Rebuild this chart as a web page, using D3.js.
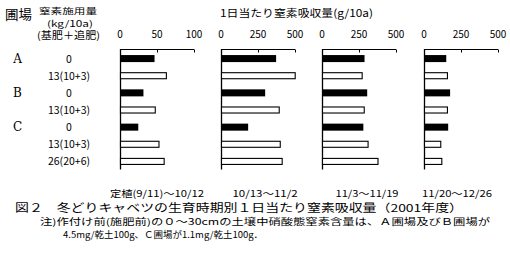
<!DOCTYPE html>
<html><head><meta charset="utf-8">
<script src="https://cdn.jsdelivr.net/npm/d3@7"></script>
<style>body{margin:0;background:#fff}svg{display:block}text{font-family:"Noto Sans CJK JP","Noto Sans",sans-serif;fill:#000}</style>
</head><body>
<script>
// ---- data ----
const periods = ["定植(9/11)〜10/12", "10/13〜11/2", "11/3〜11/19", "11/20〜12/26"];
const fieldLabels = ["A", "", "B", "", "C", "", ""];
const nitrogenLabels = ["0", "13(10+3)", "0", "13(10+3)", "0", "13(10+3)", "26(20+6)"];
const fertilized = [false, true, false, true, false, true, true];
const period1 = [46, 62, 31, 47, 24, 52, 59];
const period2 = [369, 498, 295, 390, 180, 397, 410];
const period3 = [284, 268, 302, 282, 276, 308, 375];
const period4 = [147, 155, 173, 155, 160, 110, 117];
const axisMax = [100, 500, 500, 500];
const tickValues = [[0, 50, 100], [0, 250, 500], [0, 250, 500], [0, 250, 500]];
const series = [period1, period2, period3, period4];

// ---- layout ----
const W = 510, H = 261;
const panelStart = [120, 221, 322, 424];
const panelWidth = 74;
const svg = d3.select("body").append("svg").attr("width", W).attr("height", H);

const y = d3.scaleBand().domain(d3.range(nitrogenLabels.length)).range([50, 170])
  .paddingInner(0.59).paddingOuter(0.295);

// headers
svg.append("text").attr("x", 5).attr("y", 19).attr("font-size", 13).attr("textLength", 27).attr("lengthAdjust","spacingAndGlyphs").text("圃場");
svg.append("text").attr("x", 39).attr("y", 14).attr("font-size", 8.5).attr("textLength", 58).attr("lengthAdjust","spacingAndGlyphs").text("窒素施用量");
svg.append("text").attr("x", 47).attr("y", 26.5).attr("font-size", 8.5).attr("textLength", 46).attr("lengthAdjust","spacingAndGlyphs").text("(kg/10a)");
svg.append("text").attr("x", 37).attr("y", 39).attr("font-size", 10).attr("textLength", 63).attr("lengthAdjust","spacingAndGlyphs").text("(基肥＋追肥)");
svg.append("text").attr("x", 220).attr("y", 16.5).attr("font-size", 10.5).attr("textLength", 153).attr("lengthAdjust","spacingAndGlyphs").text("1日当たり窒素吸収量(g/10a)");

// row labels
nitrogenLabels.forEach((lab, i) => {
  const cy = y(i) + y.bandwidth() / 2;
  if (fieldLabels[i]) svg.append("text").attr("x", 17.5).attr("y", cy + 4).attr("text-anchor", "middle")
    .attr("font-size", 12).style("font-family", "'DejaVu Serif','Liberation Serif',serif").text(fieldLabels[i]);
  svg.append("text").attr("x", 69).attr("y", cy + 4).attr("text-anchor", "middle")
    .attr("font-size", 10.5).text(lab);
});

// panels
series.forEach((vals, p) => {
  const x = d3.scaleLinear().domain([0, axisMax[p]]).range([panelStart[p], panelStart[p] + panelWidth]);
  const g = svg.append("g");
  // top axis
  const axis = d3.axisTop(x).tickValues(tickValues[p]).tickSize(-3).tickFormat(() => "");
  const ag = g.append("g").attr("transform", "translate(0,49.5)").call(axis);
  ag.select(".domain").attr("d", `M${x(0)},0H${x(axisMax[p])}`).attr("stroke", "#000").attr("stroke-width", 1);
  ag.selectAll(".tick line").attr("stroke", "#000");
  tickValues[p].forEach(t => {
    g.append("text").attr("x", x(t)).attr("y", 38).attr("text-anchor", "middle").attr("font-size", 10).text(t);
  });
  // vertical axis
  g.append("line").attr("x1", x(0) + 0.5).attr("x2", x(0) + 0.5).attr("y1", 49).attr("y2", 169.5)
    .attr("stroke", "#000").attr("stroke-width", 1.3);
  // bars
  g.selectAll("rect.bar").data(vals).join("rect")
    .attr("x", x(0) + 0.5)
    .attr("y", (d, i) => y(i) + (fertilized[i] ? 0.5 : 0))
    .attr("width", d => x(d) - x(0))
    .attr("height", (d, i) => y.bandwidth() - (fertilized[i] ? 1 : 0))
    .attr("fill", (d, i) => fertilized[i] ? "#fff" : "#000")
    .attr("stroke", "#000").attr("stroke-width", (d, i) => fertilized[i] ? 1.1 : 0);
  // period label
  g.append("text").attr("x", [157, 265, 367, 457][p]).attr("y", 197).attr("text-anchor", "middle")
    .attr("font-size", 9.5).attr("textLength", [94, 65, 63, 70][p]).attr("lengthAdjust","spacingAndGlyphs").text(periods[p]);
});

// caption & notes
svg.append("text").attr("x", 15).attr("y", 211.5).attr("font-size", 11).attr("textLength", 448).attr("lengthAdjust","spacingAndGlyphs")
  .text("図２　冬どりキャベツの生育時期別１日当たり窒素吸収量（2001年度）");
svg.append("text").attr("x", 40).attr("y", 225).attr("font-size", 9).attr("textLength", 450).attr("lengthAdjust","spacingAndGlyphs")
  .text("注)作付け前(施肥前)の０〜30cmの土壌中硝酸態窒素含量は、Ａ圃場及びＢ圃場が");
svg.append("text").attr("x", 63).attr("y", 238).attr("font-size", 9).attr("textLength", 200).attr("lengthAdjust","spacingAndGlyphs")
  .text("4.5mg/乾土100g、Ｃ圃場が1.1mg/乾土100g．");
</script>
</body></html>
